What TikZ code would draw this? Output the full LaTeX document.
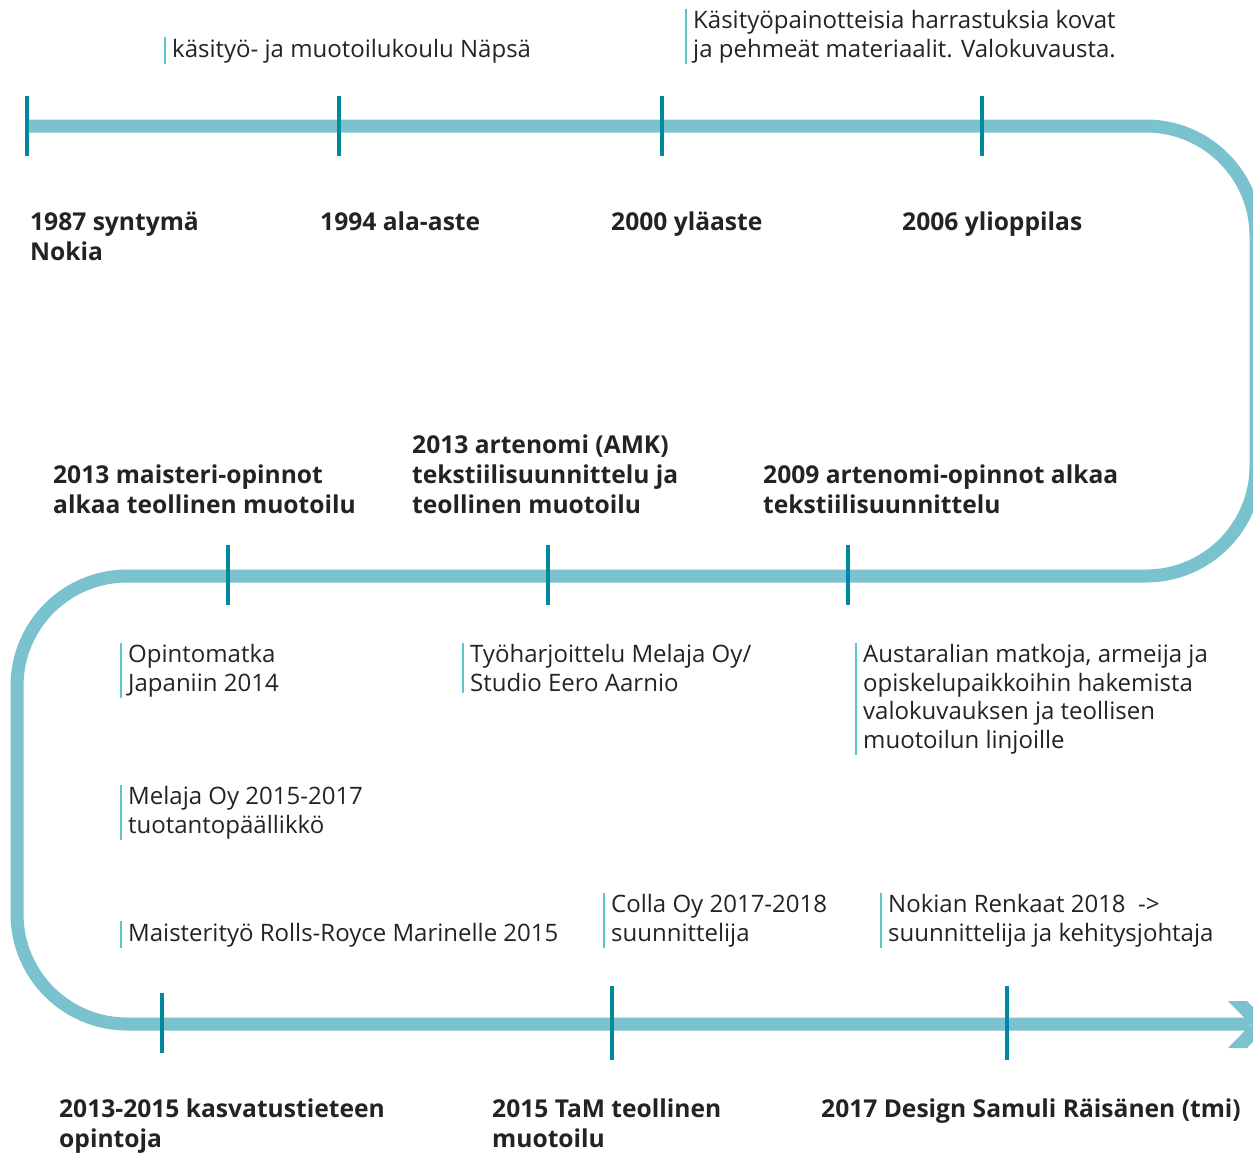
\documentclass[tikz,border=0pt]{standalone}
\usepackage{fontspec}
\setmainfont{Open Sans}
\usetikzlibrary{positioning}

\definecolor{linecol}{HTML}{7AC2CE}
\definecolor{tickcol}{HTML}{00899C}
\definecolor{barcol}{HTML}{5CC6CC}
\definecolor{textcol}{HTML}{262223}

\begin{document}
\begin{tikzpicture}[x=1pt, y=-1pt]
	\tikzstyle{timeline}=[draw=linecol, line width=13pt, rounded corners=110pt]
	\tikzstyle{tick}=[draw=tickcol, line width=4pt]
	\tikzstyle{year}=[anchor=base west, inner sep=0pt, align=left, text=textcol, font=\fontsize{24.6}{30}\selectfont\bfseries]
	\tikzstyle{note}=[anchor=base west, inner xsep=0pt, inner ysep=1.5pt, align=left, text=textcol, font=\fontsize{24}{28.5}\selectfont]
	\tikzstyle{bar}=[draw=barcol, line width=1.8pt]
	
	\useasboundingbox (0,0) rectangle (1253,1152);
	
	% The winding line with its arrow head
	\draw[timeline] (27,126) -- (1256,126) -- (1256,576) -- (17,576) -- (17,1024) -- (1250,1024);
	\fill[linecol] (1228,1001) -- (1247,1001) -- (1270,1024.5) -- (1247,1048) -- (1228,1048) -- (1251,1024.5) -- cycle;
	
	% Tick marks
	\foreach \x in {27,339,662,982} \draw[tick] (\x,96) -- (\x,156);
	\foreach \x in {228,548,848} \draw[tick] (\x,545) -- (\x,605);
	\draw[tick] (162,993) -- (162,1053);
	\foreach \x in {612,1007} \draw[tick] (\x,986) -- (\x,1060);
	
	% Years along the first row (y = baseline of the last line)
	\node[year] (y1987) at (30,260)  {1987 syntymä\\Nokia};
	\node[year] (y1994) at (320,230) {1994 ala-aste};
	\node[year] (y2000) at (611,230) {2000 yläaste};
	\node[year] (y2006) at (902,230) {2006 ylioppilas};
	
	% Years along the second row
	\node[year] (y2013m) at (53,513)  {2013 maisteri-opinnot\\alkaa teollinen muotoilu};
	\node[year] (y2013a) at (412,513) {2013 artenomi (AMK)\\tekstiilisuunnittelu ja\\teollinen muotoilu};
	\node[year] (y2009)  at (763,513) {2009 artenomi-opinnot alkaa\\tekstiilisuunnittelu};
	
	% Years along the third row
	\node[year] (y2013k) at (59,1147)  {2013-2015 kasvatustieteen\\opintoja};
	\node[year] (y2015)  at (492,1147) {2015 TaM teollinen\\muotoilu};
	\node[year] (y2017)  at (821,1117) {2017 Design Samuli Räisänen (tmi)};
	
	% Notes
	\node[note] (napsa)  at (172,57)  {käsityö- ja muotoilukoulu Näpsä};
	\node[note] (harr)   at (693,57)  {Käsityöpainotteisia harrastuksia kovat\\ja pehmeät materiaalit. Valokuvausta.};
	\node[note] (japan)  at (128,691) {Opintomatka\\Japaniin 2014};
	\node[note] (harj)   at (470,691) {Työharjoittelu Melaja Oy/\\Studio Eero Aarnio};
	\node[note] (aus)    at (863,748) {Austaralian matkoja, armeija ja\\opiskelupaikkoihin hakemista\\valokuvauksen ja teollisen\\muotoilun linjoille};
	\node[note] (melaja) at (128,833) {Melaja Oy 2015-2017\\tuotantopäällikkö};
	\node[note] (rolls)  at (128,941) {Maisterityö Rolls-Royce Marinelle 2015};
	\node[note] (colla)  at (611,941) {Colla Oy 2017-2018\\suunnittelija};
	\node[note] (nokian) at (888,941) {Nokian Renkaat 2018~~->\\suunnittelija ja kehitysjohtaja};
	
	% Bars in front of the notes
	\foreach \n in {napsa,harr,japan,harj,aus,melaja,rolls,colla,nokian}
		\draw[bar] ([xshift=-7pt]\n.north west) -- ([xshift=-7pt]\n.south west);
\end{tikzpicture}
\end{document}
